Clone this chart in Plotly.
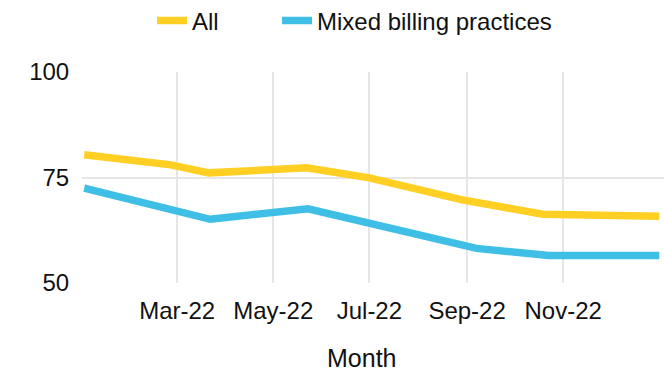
import plotly.graph_objects as go

# Survey readings for each group (date of reading, score)
all_dates = ["2022-01-01", "2022-02-25", "2022-03-21", "2022-05-22",
             "2022-07-01", "2022-08-29", "2022-10-19", "2023-01-01"]
all_values = [80.4, 78.0, 76.1, 77.3, 74.9, 69.7, 66.3, 65.8]

mixed_dates = ["2022-01-01", "2022-03-22", "2022-05-23",
               "2022-09-07", "2022-10-23", "2023-01-01"]
mixed_values = [72.5, 65.1, 67.6, 58.2, 56.5, 56.5]

tick_dates = ["2022-03-01", "2022-05-01", "2022-07-01", "2022-09-01", "2022-11-01"]
y_ticks = [50, 75, 100]

FONT = "Liberation Sans, Arial, sans-serif"
YELLOW = "#FFCF24"
BLUE = "#40BFE6"
GRID = "#E6E6E6"

fig = go.Figure()
fig.add_trace(go.Scatter(x=all_dates, y=all_values, mode="lines", name="All",
                         line=dict(color=YELLOW, width=7.5), legend="legend"))
fig.add_trace(go.Scatter(x=mixed_dates, y=mixed_values, mode="lines",
                         name="Mixed billing practices",
                         line=dict(color=BLUE, width=7.5), legend="legend2"))

legend_common = dict(orientation="h", xref="container", yref="container",
                     xanchor="left", y=0.944, yanchor="middle",
                     font=dict(size=24), bgcolor="rgba(0,0,0,0)")

fig.update_layout(
    width=664, height=375,
    margin=dict(l=82, r=0, t=72, b=92),
    paper_bgcolor="white", plot_bgcolor="white",
    font=dict(family=FONT, size=24, color="#111111"),
    showlegend=True,
    legend=dict(x=152 / 664, **legend_common),
    legend2=dict(x=277 / 664, **legend_common),
    annotations=[dict(text="Month", xref="paper", yref="paper",
                      x=0.481, y=-0.355, xanchor="center", yanchor="middle",
                      showarrow=False, font=dict(size=25))],
)
fig.update_xaxes(
    type="date", range=["2021-12-30 14:00", "2023-01-04"],
    tickvals=tick_dates, tickformat="%b-%y",
    showgrid=True, gridcolor=GRID, gridwidth=1.5,
    ticks="outside", ticklen=6, tickcolor="rgba(0,0,0,0)",
    showline=False, zeroline=False,
)
fig.update_yaxes(
    range=[50, 100], tickvals=y_ticks,
    showgrid=True, gridcolor=GRID, gridwidth=1.5,
    ticks="outside", ticklen=7, tickcolor="rgba(0,0,0,0)",
    showline=False, zeroline=False,
)

fig.write_html("out.html")
